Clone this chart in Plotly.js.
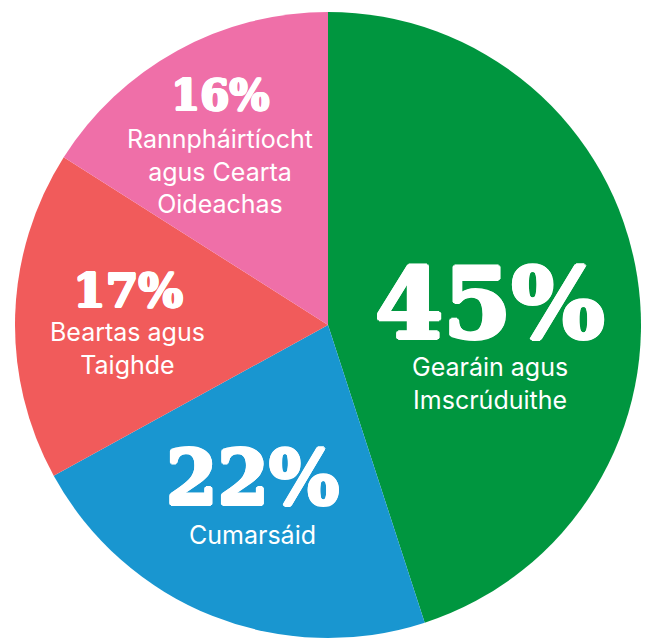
<!DOCTYPE html>
<html>
<head>
<meta charset="utf-8">
<script src="https://cdn.plot.ly/plotly-3.0.1.min.js"></script>
<style>html,body{margin:0;padding:0;background:#fff;}#chart{width:646px;height:639px;}</style>
</head>
<body>
<div id="chart"></div>
<script>
// Data
const categories = ["Gearáin agus<br>Imscrúduithe", "Cumarsáid", "Beartas agus<br>Taighde", "Rannpháirtíocht<br>agus Cearta<br>Oideachas"];
const values = [45, 22, 17, 16];
const colors = ["#00963F", "#1996D0", "#F15B5B", "#EF6FA8"];

// Layout / label placement (style)
const W = 646, H = 639;
const cx = 328, cy = 325, R = 313;
const pctSizes = [98, 74, 47, 42];
const strokeW = [2, 1.6, 1.2, 1.1];
const angleNudge = [1.6, 4.8, 8.1, 3.55];
const radiusFrac = [0.522, 0.546, 0.649, 0.809];
const descOffset = [80, 57, 58, 76];

function thick(w) {
  const s = [];
  for (let a = 0; a < 360; a += 45) {
    const r = a * Math.PI / 180;
    s.push((w * Math.cos(r)).toFixed(2) + "px " + (w * Math.sin(r)).toFixed(2) + "px 0 #ffffff");
  }
  return s.join(", ");
}

const total = values.reduce((a, b) => a + b, 0);
const annotations = [];
let acc = 0;
values.forEach((v, i) => {
  const mid = (acc + v / 2) / total * 360 + angleNudge[i];
  acc += v;
  const rad = mid * Math.PI / 180;
  const r = radiusFrac[i] * R;
  const px = cx + r * Math.sin(rad);
  const py = cy - r * Math.cos(rad);
  const xp = px / W, yp = 1 - py / H;
  annotations.push({
    x: xp, y: yp, xref: "paper", yref: "paper", showarrow: false,
    xanchor: "center", yanchor: "middle",
    text: v + "%",
    font: {family: "DejaVu Serif", size: pctSizes[i], color: "#ffffff", weight: 900, shadow: thick(strokeW[i])}
  });
  annotations.push({
    x: xp, y: yp, xref: "paper", yref: "paper", showarrow: false,
    xanchor: "center", yanchor: "middle", yshift: -descOffset[i],
    text: categories[i],
    font: {family: "Inter", size: 25, color: "#ffffff"}
  });
});

const data = [{
  type: "pie",
  values: values,
  labels: categories,
  marker: {colors: colors, line: {width: 0}},
  sort: false,
  direction: "clockwise",
  rotation: 0,
  textinfo: "none",
  hoverinfo: "skip",
  domain: {x: [(cx - R) / W, (cx + R) / W], y: [(H - cy - R) / H, (H - cy + R) / H]}
}];

const layout = {
  width: W, height: H,
  margin: {l: 0, r: 0, t: 0, b: 0},
  showlegend: false,
  paper_bgcolor: "#ffffff",
  annotations: annotations
};

Plotly.newPlot("chart", data, layout, {displayModeBar: false, staticPlot: true});
</script>
</body>
</html>
